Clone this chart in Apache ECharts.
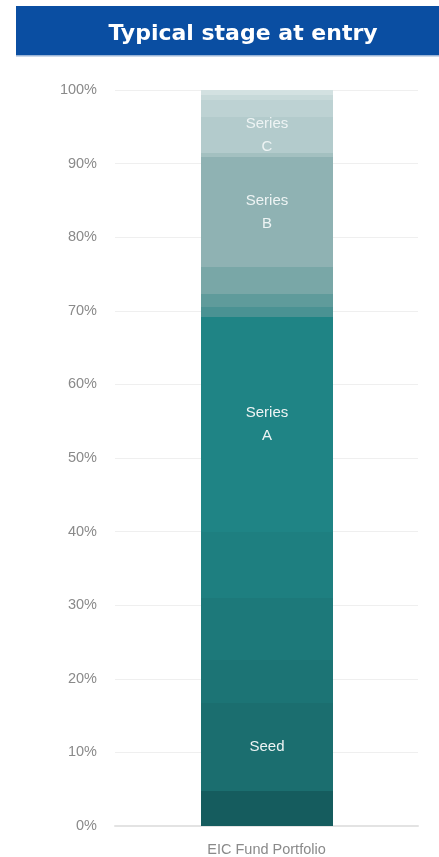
<!DOCTYPE html>
<html>
<head>
<meta charset="utf-8">
<script src="https://cdn.jsdelivr.net/npm/echarts@6/dist/echarts.min.js"></script>
<style>
  html, body { margin: 0; padding: 0; background: #fff; }
  #chart { width: 439px; height: 857px; }
</style>
</head>
<body>
<div id="chart"></div>
<script>
const categories = ['EIC Fund Portfolio']
// stacked bands, bottom to top (share of portfolio, %)
const bandNames = ['b0', 'Seed', 'b2', 'b3', 'b4', 'Series A', 'b6', 'b7', 'b8', 'Series B', 'b10', 'Series C', 'b12', 'b13', 'b14']
const bandValues = [4.8, 11.9, 5.9, 8.4, 9.0, 29.2, 1.3, 1.8, 3.6, 15.0, 0.5, 4.9, 2.3, 0.7, 0.7]
const bandLabels = ['', 'Seed', '', '', '', 'Series\nA', '', '', '', 'Series\nB', '', 'Series\nC', '', '', '']
const yTicks = [0, 10, 20, 30, 40, 50, 60, 70, 80, 90, 100]

const palette = ['#155c5e', '#1b6e6f', '#1c7475', '#1d797a', '#1e7f80', '#1f8485',
  '#4a9293', '#5f9b9b', '#79a7a7', '#8fb2b3', '#a3c0c0', '#b3cbcc', '#bdd2d3', '#c7d9d9', '#d3e1e1']

// [category, from, to, band index] built from the arrays above
const stacked = []
let acc = 0
bandValues.forEach((v, i) => {
  stacked.push([0, acc, acc + v, i])
  acc += v
})

const BAR_W = 132

// custom stacked bar so band edges snap to whole pixels (no white seams)
const renderBand = (params, api) => {
  const i = api.value(3)
  const top = api.coord([api.value(0), api.value(2)])
  const bot = api.coord([api.value(0), api.value(1)])
  const y0 = Math.round(top[1])
  const y1 = Math.round(bot[1])
  const x = Math.round(top[0] - BAR_W / 2)
  const children = [{
    type: 'rect',
    shape: { x: x, y: y0, width: BAR_W, height: y1 - y0 },
    style: { fill: palette[i] }
  }]
  if (bandLabels[i]) {
    children.push({
      type: 'text',
      x: x + BAR_W / 2,
      y: (y0 + y1) / 2,
      style: {
        text: bandLabels[i],
        fill: '#eef4f4',
        fontSize: 15,
        lineHeight: 23,
        fontFamily: 'Liberation Sans, Arial, sans-serif',
        align: 'center',
        verticalAlign: 'middle'
      }
    })
  }
  return { type: 'group', children: children }
}

const chart = echarts.init(document.getElementById('chart'))

chart.setOption({
  animation: false,
  graphic: [
    {
      type: 'rect',
      shape: { x: 16, y: 6, width: 423, height: 49 },
      style: { fill: '#0a4ea2' }
    },
    {
      type: 'rect',
      shape: { x: 16, y: 55, width: 423, height: 1.5 },
      style: { fill: '#9ab4d6' }
    },
    {
      type: 'text',
      x: 243,
      y: 34,
      style: {
        text: 'Typical stage at entry',
        fill: '#ffffff',
        font: 'bold 22px "DejaVu Sans", sans-serif',
        align: 'center',
        verticalAlign: 'middle'
      }
    }
  ],
  grid: {
    left: 115,
    right: 21,
    top: 90,
    bottom: 31
  },
  xAxis: {
    type: 'category',
    data: categories,
    axisLine: { lineStyle: { color: '#e3e3e3', width: 2 } },
    axisTick: { show: false },
    axisLabel: {
      color: '#8a8a8a',
      fontSize: 14.5,
      margin: 16,
      fontFamily: 'Liberation Sans, Arial, sans-serif'
    }
  },
  yAxis: {
    type: 'value',
    min: 0,
    max: 100,
    interval: 10,
    axisLine: { show: false },
    axisTick: { show: false },
    axisLabel: {
      color: '#8a8a8a',
      fontSize: 14.5,
      margin: 18,
      fontFamily: 'Liberation Sans, Arial, sans-serif',
      formatter: v => (yTicks.includes(v) ? v + '%' : '')
    },
    splitLine: { lineStyle: { color: '#efefef', width: 1 } }
  },
  series: [
    {
      type: 'custom',
      renderItem: renderBand,
      encode: { x: 0, y: [1, 2] },
      data: stacked,
      silent: true
    }
  ]
})
</script>
</body>
</html>
